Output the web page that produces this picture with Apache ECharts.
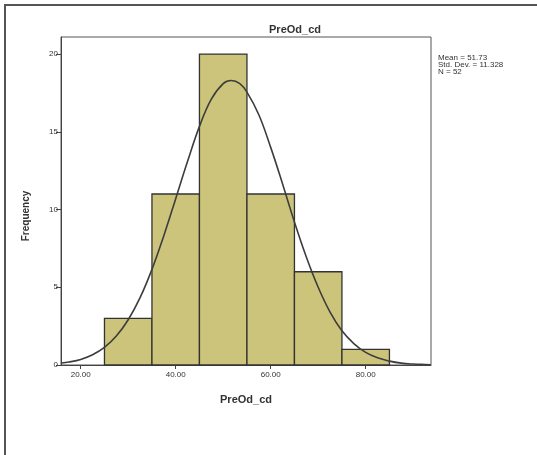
<!DOCTYPE html>
<html>
<head>
	<meta charset="utf-8">
	<title>PreOd_cd</title>
	<script src="https://cdn.jsdelivr.net/npm/echarts@6/dist/echarts.min.js"></script>
</head>
<body style="margin:0;background:#fff;">
	<div id="chart" style="width:537px;height:455px;"></div>
<script type="text/javascript">
// 直方图的分组(起点)与频数
var binStart = [25, 35, 45, 55, 65, 75];
var binWidth = 10;
var counts = [3, 11, 20, 11, 6, 1];

// 正态曲线 - 点
var curveX = [16, 17.5, 20, 22.5, 25, 27.5, 30, 32.5, 35, 37.5, 40, 42.5, 45, 47.5, 50, 51.7, 53.5, 55, 57.5, 60, 62.5, 65, 67.5, 70, 72.5, 75, 77.5, 80, 82.5, 85, 87.5, 90, 92.5, 93.7];
var curveY = [0.13, 0.19, 0.36, 0.66, 1.13, 1.86, 2.91, 4.33, 6.15, 8.32, 10.7, 13.1, 15.35, 17.1, 18.1, 18.3, 18.1, 17.55, 16.1, 14.0, 11.65, 9.2, 6.95, 5.0, 3.4, 2.2, 1.38, 0.81, 0.46, 0.25, 0.12, 0.06, 0.03, 0.02];

var xTicks = [20, 40, 60, 80];
var yTicks = [0, 5, 10, 15, 20];
var statsLines = ['Mean = 51.73', 'Std. Dev. = 11.328', 'N = 52'];

var barData = [];
for (var i = 0; i < binStart.length; i++) {
    barData.push([binStart[i], binStart[i] + binWidth, counts[i]]);
}
var lineData = [];
for (var j = 0; j < curveX.length; j++) {
    lineData.push([curveX[j], curveY[j]]);
}

var font = 'Liberation Sans, Arial, sans-serif';

var option = {
    backgroundColor: '#ffffff',
    animation: false,
    title: {
        text: 'PreOd_cd',
        left: 290,
        top: 19,
        textAlign: 'center',
        textStyle: {fontFamily: font, fontSize: 11, fontWeight: 'bold', color: '#333'}
    },
    grid: {
        left: 61, top: 37, right: 106, bottom: 90,
        show: true, borderColor: '#555', borderWidth: 1
    },
    xAxis: {
        type: 'value',
        min: 15.85,
        max: 93.75,
        name: 'PreOd_cd',
        nameLocation: 'middle',
        nameGap: 29,
        nameTextStyle: {fontFamily: font, fontSize: 11, fontWeight: 'bold', color: '#333'},
        axisLine: {lineStyle: {color: '#444'}},
        axisTick: {show: true, length: 4, customValues: xTicks, lineStyle: {color: '#444'}},
        axisLabel: {
            customValues: xTicks, fontFamily: font, fontSize: 8, color: '#333', margin: 6,
            formatter: function (v) { return v.toFixed(2); }
        },
        splitLine: {show: false}
    },
    yAxis: {
        type: 'value',
        min: 0,
        max: 21.1,
        name: 'Frequency',
        nameLocation: 'middle',
        nameGap: 30,
        nameTextStyle: {fontFamily: font, fontSize: 10, fontWeight: 'bold', color: '#333', padding: [0, 0, 0, -30]},
        axisLine: {show: true, lineStyle: {color: '#444'}},
        axisTick: {show: true, length: 5, customValues: yTicks, lineStyle: {color: '#444'}},
        axisLabel: {customValues: yTicks, fontFamily: font, fontSize: 8, color: '#333', margin: 3},
        splitLine: {show: false}
    },
    graphic: [
        {
            type: 'rect',
            shape: {x: 5, y: 5, width: 540, height: 460},
            style: {fill: 'none', stroke: '#555', lineWidth: 2},
            silent: true
        },
        {
            type: 'text',
            left: 438,
            top: 54,
            style: {
                text: statsLines.join('\n'),
                fontFamily: font, fontSize: 8, lineHeight: 7, fill: '#333'
            }
        }
    ],
    series: [
        {
            type: 'custom',
            data: barData,
            encode: {x: [0, 1], y: 2},
            renderItem: function (params, api) {
                var p0 = api.coord([api.value(0), api.value(2)]);
                var p1 = api.coord([api.value(1), 0]);
                return {
                    type: 'rect',
                    shape: {x: p0[0], y: p0[1], width: p1[0] - p0[0], height: p1[1] - p0[1]},
                    style: {fill: '#cbc47a', stroke: '#333', lineWidth: 1.3}
                };
            },
            z: 2
        },
        {
            type: 'line',
            data: lineData,
            smooth: 0.4,
            showSymbol: false,
            lineStyle: {color: '#3d3d3d', width: 1.6},
            z: 3
        }
    ]
};

var myChart = echarts.init(document.getElementById('chart'));
myChart.setOption(option);
</script>
</body>
</html>
